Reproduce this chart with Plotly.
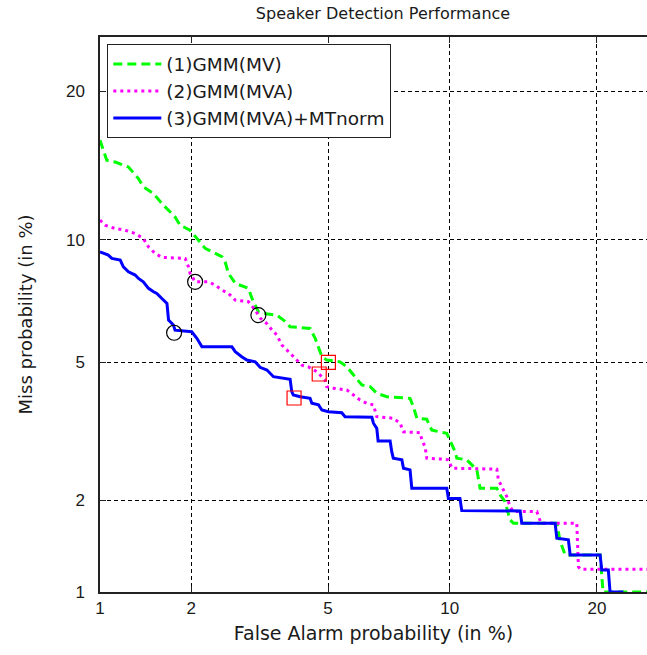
from statistics import NormalDist
import plotly.graph_objects as go

# ---------------- data (percent) ----------------
tick_values = [1, 2, 5, 10, 20]
tick_labels = ["1", "2", "5", "10", "20"]
x_range_pct = [1.0, 24.45]
y_range_pct = [1.0, 24.8]

series_names = ["(1)GMM(MV)", "(2)GMM(MVA)", "(3)GMM(MVA)+MTnorm"]

green_fa = [1.0, 1.055, 1.128, 1.250, 1.350, 1.401, 1.514, 1.612, 1.777, 1.845, 1.983, 2.107, 2.210, 2.488,
            2.544, 2.604, 2.729, 2.987, 3.057, 3.193, 3.304, 3.608, 3.770, 3.935, 4.469, 4.615, 4.712, 4.812,
            4.960, 5.381, 5.605, 5.891, 6.128, 6.438, 6.689, 7.089, 8.076, 8.229, 8.387, 8.851, 9.098, 9.850,
            10.02, 10.29, 10.38, 10.93, 11.50, 11.59, 11.69, 12.70, 12.91, 13.22, 13.54, 13.76, 16.82, 17.06,
            17.45, 20.27, 20.52, 25.0]
green_miss = [16.18, 14.77, 14.65, 14.32, 13.55, 13.03, 12.61, 12.01, 11.23, 10.77, 10.50, 9.97, 9.55, 9.14,
              8.89, 8.356, 7.908, 7.693, 7.281, 6.737, 6.673, 6.611, 6.426, 6.179, 6.12, 5.774, 5.487, 5.169,
              5.064, 5.010, 4.860, 4.570, 4.340, 4.294, 4.118, 4.027, 3.987, 3.774, 3.506, 3.483, 3.243, 3.173,
              3.037, 2.805, 2.683, 2.652, 2.475, 2.307, 2.177, 2.177, 2.075, 1.977, 1.732, 1.691, 1.691, 1.483,
              1.333, 1.333, 1.0, 1.0]

mag_fa = [1.0, 1.041, 1.128, 1.218, 1.317, 1.401, 1.457, 1.533, 1.612, 1.914, 1.960, 1.983, 2.057, 2.261,
          2.374, 2.488, 2.604, 2.729, 2.987, 3.126, 3.230, 3.365, 3.500, 3.608, 3.731, 3.893, 4.063, 4.244,
          4.416, 4.665, 4.909, 4.960, 5.169, 5.605, 5.833, 6.064, 6.315, 6.561, 6.689, 7.353, 7.643, 7.786,
          8.540, 8.619, 8.772, 8.851, 9.67, 9.934, 10.12, 12.70, 12.80, 13.01, 13.33, 13.54, 13.76, 15.36,
          15.59, 15.66, 18.36, 18.49, 18.63, 25.0]
mag_miss = [11.05, 10.77, 10.59, 10.50, 10.32, 10.06, 9.626, 9.302, 9.106, 9.057, 8.658, 8.356, 7.977, 7.977,
            7.835, 7.620, 7.478, 7.202, 7.135, 6.804, 6.500, 6.315, 6.057, 5.886, 5.545, 5.328, 5.118, 4.909,
            4.860, 4.715, 4.474, 4.294, 4.251, 4.206, 4.073, 3.945, 3.864, 3.823, 3.541, 3.506, 3.393, 3.206,
            3.185, 3.037, 2.900, 2.683, 2.665, 2.652, 2.504, 2.487, 2.307, 2.202, 2.049, 1.908, 1.840, 1.840,
            1.732, 1.691, 1.691, 1.218, 1.195, 1.195]

blue_fa = [1.0, 1.068, 1.098, 1.173, 1.202, 1.250, 1.317, 1.350, 1.401, 1.457, 1.514, 1.552, 1.612, 1.674,
           1.694, 1.756, 1.777, 2.007, 2.083, 2.160, 2.667, 2.729, 2.853, 2.955, 3.126, 3.230, 3.381, 3.530,
           3.935, 3.977, 4.017, 4.198, 4.469, 4.519, 4.712, 4.812, 5.010, 5.436, 5.546, 6.502, 6.561, 6.689,
           6.741, 7.221, 7.289, 7.353, 7.717, 7.786, 8.076, 8.155, 9.850, 9.934, 10.55, 10.65, 14.21, 14.32,
           16.69, 16.82, 17.70, 17.84, 20.27, 20.41, 20.97, 21.12, 22.29]
blue_miss = [9.381, 9.219, 9.057, 8.974, 8.658, 8.429, 8.278, 8.126, 7.977, 7.693, 7.547, 7.478, 7.270, 7.071,
             6.426, 6.242, 6.057, 5.999, 5.774, 5.487, 5.487, 5.328, 5.169, 5.064, 5.010, 4.843, 4.764, 4.570,
             4.495, 4.161, 4.073, 4.027, 3.987, 3.864, 3.823, 3.700, 3.659, 3.634, 3.541, 3.527, 3.393, 3.281,
             3.016, 3.016, 2.805, 2.683, 2.652, 2.504, 2.475, 2.177, 2.177, 2.024, 2.024, 1.853, 1.849, 1.691,
             1.691, 1.513, 1.494, 1.333, 1.333, 1.188, 1.188, 1.0, 1.0]

# operating points: circles (black) and squares (red), order: green, magenta, blue
circle_fa = [3.193, 2.057, 1.765]
circle_miss = [6.611, 7.977, 5.965]
square_fa = [5.010, 4.733, 4.036]
square_miss = [4.991, 4.648, 3.996]

# ---------------- normal-deviate (DET) scale ----------------
_nd = NormalDist()


def probit(vals):
    return [_nd.inv_cdf(v / 100.0) for v in vals]


WIDE = "DejaVu Sans, Verdana, sans-serif"
NARROW = "Liberation Sans, Arial, sans-serif"
TXT = "#1a1a1a"

fig = go.Figure()

fig.add_trace(go.Scatter(x=probit(green_fa), y=probit(green_miss), mode="lines", name=series_names[0],
                         line=dict(color="#00FF00", width=3, dash="9px,5px")))
fig.add_trace(go.Scatter(x=probit(mag_fa), y=probit(mag_miss), mode="lines", name=series_names[1],
                         line=dict(color="#FF00FF", width=3, dash="3px,4px")))
fig.add_trace(go.Scatter(x=probit(blue_fa), y=probit(blue_miss), mode="lines", name=series_names[2],
                         line=dict(color="#0000FF", width=3)))

fig.add_trace(go.Scatter(x=probit(circle_fa), y=probit(circle_miss), mode="markers", showlegend=False,
                         marker=dict(symbol="circle-open", size=15, color="black", line=dict(width=1.2))))
fig.add_trace(go.Scatter(x=probit(square_fa), y=probit(square_miss), mode="markers", showlegend=False,
                         marker=dict(symbol="square-open", size=14, color="#FF0000", line=dict(width=1.2))))

axis_common = dict(
    showgrid=True, gridcolor="black", gridwidth=1, griddash="4px,3px",
    zeroline=False, showline=True, linecolor="#222", linewidth=1.5,
    ticks="inside", ticklen=6, tickcolor="#222", tickwidth=1.2,
    tickfont=dict(family=NARROW, size=17, color=TXT),
)

fig.update_xaxes(**axis_common)
fig.update_yaxes(**axis_common)

fig.update_xaxes(
    tickvals=probit(tick_values), ticktext=tick_labels,
    range=probit(x_range_pct), mirror="ticks",
    title=dict(text="False Alarm probability (in %)", standoff=10,
               font=dict(family=WIDE, size=19, color=TXT)),
)
fig.update_yaxes(
    tickvals=probit(tick_values), ticktext=tick_labels,
    range=probit(y_range_pct), mirror=False, ticklabelstandoff=10,
    title=dict(text="Miss probability (in %)", standoff=29,
               font=dict(family=WIDE, size=18, color=TXT)),
)

fig.update_layout(
    width=647, height=655,
    margin=dict(l=100, r=0, t=37, b=63),
    paper_bgcolor="white", plot_bgcolor="white",
    title=dict(text="Speaker Detection Performance", x=0.592, xanchor="center", y=0.979, yanchor="middle",
               font=dict(family=WIDE, size=16, color=TXT)),
    legend=dict(x=0.013, y=0.987, xanchor="left", yanchor="top", bgcolor="white",
                bordercolor="#222", borderwidth=1.2,
                font=dict(family=WIDE, size=18.5, color=TXT),
                tracegroupgap=0, itemwidth=48),
    showlegend=True,
)

fig.write_html("out.html",
               config={"displayModeBar": False},
               post_script="document.body.style.margin='0';document.body.style.overflow='hidden';")
